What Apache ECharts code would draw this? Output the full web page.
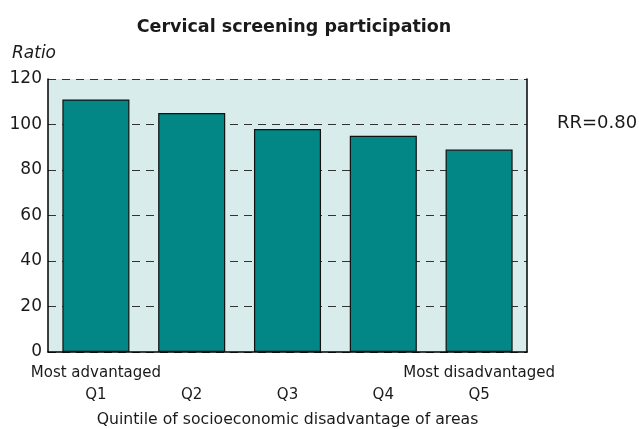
<!DOCTYPE html>
<html>
<head>
<meta charset="utf-8">
<script src="https://cdn.jsdelivr.net/npm/echarts@6/dist/echarts.min.js"></script>
<style>
  html, body { margin: 0; padding: 0; background: #ffffff; }
  #chart { width: 639px; height: 429px; }
</style>
</head>
<body>
<div id="chart"></div>
<script>
// Quintiles of area disadvantage and their screening ratios
const quintiles = ['Q1', 'Q2', 'Q3', 'Q4', 'Q5'];
const endNotes = ['Most advantaged', '', '', '', 'Most disadvantaged'];
const ratios = [111, 105, 98, 95, 89];
const yTicks = [0, 20, 40, 60, 80, 100, 120];
const rateRatio = 'RR=0.80';

const FONT = '"DejaVu Sans", "Noto Sans", sans-serif';
const INK = '#1a1a1a';

const chart = echarts.init(document.getElementById('chart'), null, { renderer: 'canvas' });

chart.setOption({
  animation: false,
  backgroundColor: '#ffffff',
  title: {
    text: 'Cervical screening participation',
    left: 289,
    textAlign: 'center',
    top: 13,
    textStyle: { fontFamily: FONT, fontSize: 17.5, fontWeight: 'bold', color: INK }
  },
  grid: {
    left: 48, right: 112, top: 79, bottom: 77,
    containLabel: false,
    outerBoundsMode: 'none',
    show: true, backgroundColor: '#d9ecec', borderWidth: 0
  },
  xAxis: {
    type: 'category',
    data: quintiles,
    name: 'Quintile of socioeconomic disadvantage of areas',
    nameLocation: 'middle',
    nameGap: 60,
    nameTextStyle: { fontFamily: FONT, fontSize: 15.7, color: INK },
    axisLine: { show: true, lineStyle: { color: '#000', width: 1.5 } },
    axisTick: { show: false },
    axisLabel: {
      interval: 0,
      margin: 10,
      formatter: (v, i) => '{note|' + (endNotes[i] || ' ') + '}\n{q|' + v + '}',
      rich: {
        note: { fontFamily: FONT, fontSize: 15, color: INK, lineHeight: 22 },
        q: { fontFamily: FONT, fontSize: 15, color: INK, lineHeight: 22 }
      }
    }
  },
  yAxis: [{
    type: 'value',
    min: yTicks[0],
    max: yTicks[yTicks.length - 1],
    interval: yTicks[1] - yTicks[0],
    axisLine: { show: true, lineStyle: { color: '#000', width: 1.5 } },
    axisTick: { show: false },
    axisLabel: { fontFamily: FONT, fontSize: 17, color: INK, margin: 6 },
    splitLine: { show: true, lineStyle: { color: '#333', width: 1.2, type: [8, 6] } }
  }, {
    type: 'value',
    position: 'right',
    min: yTicks[0],
    max: yTicks[yTicks.length - 1],
    interval: yTicks[1] - yTicks[0],
    axisLine: { show: true, lineStyle: { color: '#000', width: 1.5 } },
    axisTick: { show: false },
    axisLabel: { show: false },
    splitLine: { show: false }
  }],
  graphic: [
    {
      type: 'text', left: 12, top: 45,
      style: { text: 'Ratio', font: 'italic 17px ' + FONT, fill: INK }
    },
    {
      type: 'text', left: 557, top: 114,
      style: { text: rateRatio, font: '18px ' + FONT, fill: INK }
    }
  ],
  series: [{
    type: 'bar',
    data: ratios,
    barWidth: '70%',
    itemStyle: { color: '#038686', borderColor: '#111', borderWidth: 1.2 }
  }]
});
</script>
</body>
</html>
